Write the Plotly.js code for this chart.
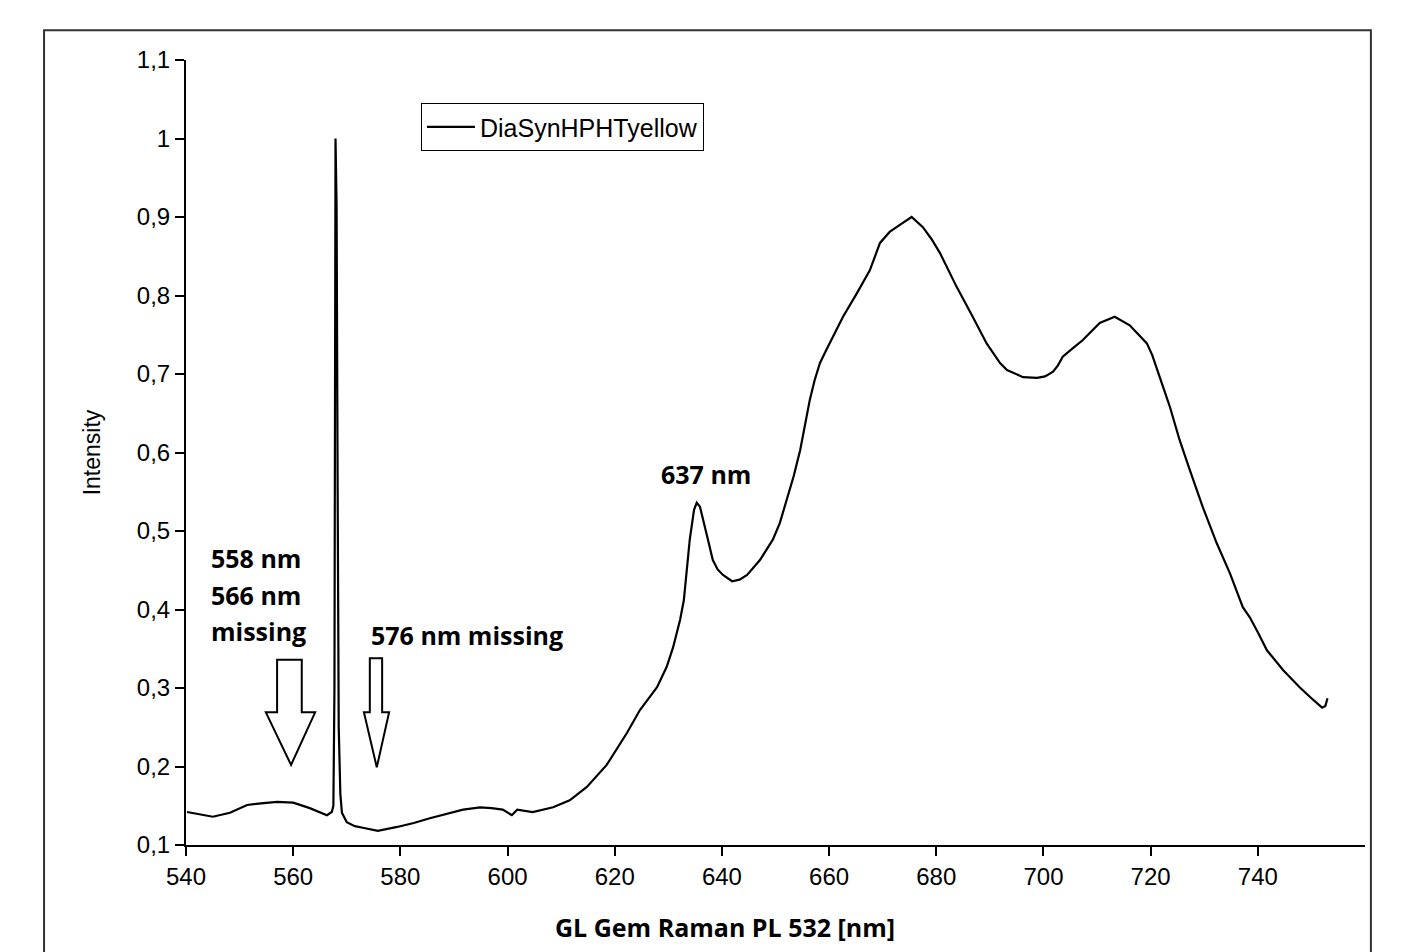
<!DOCTYPE html>
<html>
<head>
<meta charset="utf-8">
<script src="https://cdn.plot.ly/plotly-3.0.1.min.js"></script>
<style>html,body{margin:0;padding:0;background:#fff;}#chart{width:1415px;height:952px;}</style>
</head>
<body>
<div id="chart"></div>
<script>
// Wavelength [nm]
const wavelength = [
  540.2, 542.5, 545.0, 548.2, 551.4, 554.0, 557.0, 560.0, 563.1, 566.3, 567.2,
  567.5, 567.7, 567.9, 568.1, 568.3, 568.5, 568.8,
  569.1, 570.0, 571.5, 573.0, 575.8, 579.4, 582.5, 585.5, 588.5, 591.7, 594.9, 597.0, 599.1, 600.8, 601.8, 604.7,
  608.5, 611.6, 614.8, 618.5, 622.3, 624.7, 627.9, 629.7, 630.9, 632.2, 632.9, 633.5, 634.0,
  634.8, 635.3, 635.9, 636.4, 637.4, 638.3, 639.2, 640.2, 641.9, 643.3, 644.7, 647.1, 649.5, 650.8, 652.1,
  653.4, 654.6, 655.5, 656.4, 657.3, 658.3, 659.5, 660.7, 662.6, 665.2, 667.6, 669.5, 671.3, 673.2, 675.4, 677.5,
  679.1, 680.7, 683.8, 686.8, 689.4, 691.9, 693.2, 696.2, 698.8, 700.3, 701.8, 702.7, 703.6, 705.5, 707.3, 710.5,
  713.3, 716.1, 719.3, 720.3, 721.2, 722.4, 723.6, 725.4, 727.3, 729.7, 732.3, 734.8, 737.2, 738.5,
  740.0, 741.7, 744.7, 747.8, 750.0, 752.0, 752.6, 753.0
];
// Intensity
const intensity = [
  0.142, 0.139, 0.136, 0.141, 0.151, 0.153, 0.155, 0.154, 0.147, 0.138, 0.142,
  0.150, 0.300, 1.000, 0.915, 0.550, 0.250, 0.165,
  0.141, 0.129, 0.124, 0.122, 0.118, 0.123, 0.128, 0.134, 0.139, 0.145, 0.148, 0.147, 0.145, 0.138, 0.145, 0.142,
  0.148, 0.157, 0.174, 0.202, 0.243, 0.272, 0.301, 0.327, 0.352, 0.387, 0.412, 0.450, 0.489,
  0.527, 0.536, 0.531, 0.518, 0.489, 0.463, 0.451, 0.444, 0.436, 0.438, 0.444, 0.463, 0.489, 0.510, 0.539,
  0.570, 0.603, 0.637, 0.667, 0.692, 0.714, 0.731, 0.747, 0.773, 0.803, 0.832, 0.867, 0.881, 0.890, 0.900, 0.887,
  0.872, 0.854, 0.811, 0.773, 0.739, 0.714, 0.705, 0.696, 0.695, 0.697, 0.703, 0.711, 0.722, 0.733, 0.743, 0.765,
  0.773, 0.762, 0.739, 0.724, 0.705, 0.682, 0.658, 0.616, 0.578, 0.531, 0.485, 0.446, 0.403, 0.390,
  0.371, 0.348, 0.323, 0.301, 0.287, 0.275, 0.277, 0.287
];
const seriesName = "DiaSynHPHTyellow";
const xTitle = "GL Gem Raman PL 532 [nm]";
const yTitle = "Intensity";
const xTicks = [540, 560, 580, 600, 620, 640, 660, 680, 700, 720, 740];
const yTicks = [0.1, 0.2, 0.3, 0.4, 0.5, 0.6, 0.7, 0.8, 0.9, 1.0, 1.1];
const notes = [
  {text: "558 nm", x: 544.2, y: 0.465},
  {text: "566 nm", x: 544.2, y: 0.418},
  {text: "missing", x: 544.2, y: 0.372},
  {text: "576 nm missing", x: 574.1, y: 0.368},
  {text: "637 nm", x: 628.2, y: 0.572}
];
// block arrows: [shaftLeft, shaftRight, top, headBase, headLeft, headRight, tipX, tipY]
const arrows = [
  [557.0, 561.6, 0.336, 0.269, 554.9, 564.1, 559.6, 0.202],
  [574.3, 576.6, 0.338, 0.269, 573.2, 577.9, 575.6, 0.199]
];

const arial = "Liberation Sans, Arial, sans-serif";
const bold = "Open Sans, Lato, sans-serif";

const trace = {
  x: wavelength, y: intensity, type: "scatter", mode: "lines",
  name: seriesName, line: {color: "#000", width: 2.2}
};

const shapes = [
  {type: "rect", xref: "paper", yref: "paper", x0: -0.1204, x1: 1.005, y0: -0.25, y1: 1.038,
   line: {color: "#333", width: 2}, fillcolor: "rgba(0,0,0,0)", layer: "below"}
];
arrows.forEach(a => {
  const [sl, sr, top, base, hl, hr, tx, ty] = a;
  shapes.push({
    type: "path", xref: "x", yref: "y",
    path: `M ${sl} ${top} L ${sr} ${top} L ${sr} ${base} L ${hr} ${base} L ${tx} ${ty} L ${hl} ${base} L ${sl} ${base} Z`,
    line: {color: "#000", width: 2}, fillcolor: "#fff"
  });
});

const annotations = notes.map(n => ({
  text: "<b>" + n.text + "</b>", x: n.x, y: n.y, xref: "x", yref: "y",
  xanchor: "left", yanchor: "middle", showarrow: false,
  font: {family: bold, size: 25, color: "#000"}
}));
annotations.push({
  text: "<b>" + xTitle + "</b>", xref: "paper", yref: "paper", x: 0.4572, y: -0.1045,
  xanchor: "center", yanchor: "middle", showarrow: false,
  font: {family: bold, size: 25, color: "#000"}
});

const layout = {
  width: 1415, height: 952,
  margin: {l: 186, r: 50, t: 60, b: 107, pad: 0},
  paper_bgcolor: "#fff", plot_bgcolor: "#fff",
  separators: ", ",
  showlegend: true,
  legend: {
    x: 0.1993, y: 0.945, xanchor: "left", yanchor: "top",
    bordercolor: "#000", borderwidth: 1, bgcolor: "#fff", itemwidth: 48,
    font: {family: arial, size: 25, color: "#000"}
  },
  xaxis: {
    range: [540, 760], tickvals: xTicks, ticktext: xTicks.map(String),
    showgrid: false, zeroline: false, showline: true, linecolor: "#000", linewidth: 2,
    ticks: "outside", ticklen: 9, tickwidth: 2, tickcolor: "#000",
    tickfont: {family: arial, size: 24, color: "#000"}
  },
  yaxis: {
    range: [0.1, 1.1], tickvals: yTicks, ticktext: yTicks.map(v => (Math.round(v*10)/10).toString().replace(".", ",")),
    showgrid: false, zeroline: false, showline: true, linecolor: "#000", linewidth: 2,
    ticks: "outside", ticklen: 9, tickwidth: 2, tickcolor: "#000",
    tickfont: {family: arial, size: 24, color: "#000"},
    title: {text: yTitle, font: {family: arial, size: 23, color: "#000"}, standoff: 30}
  },
  shapes: shapes,
  annotations: annotations
};

Plotly.newPlot("chart", [trace], layout, {displayModeBar: false, staticPlot: true});
</script>
</body>
</html>
